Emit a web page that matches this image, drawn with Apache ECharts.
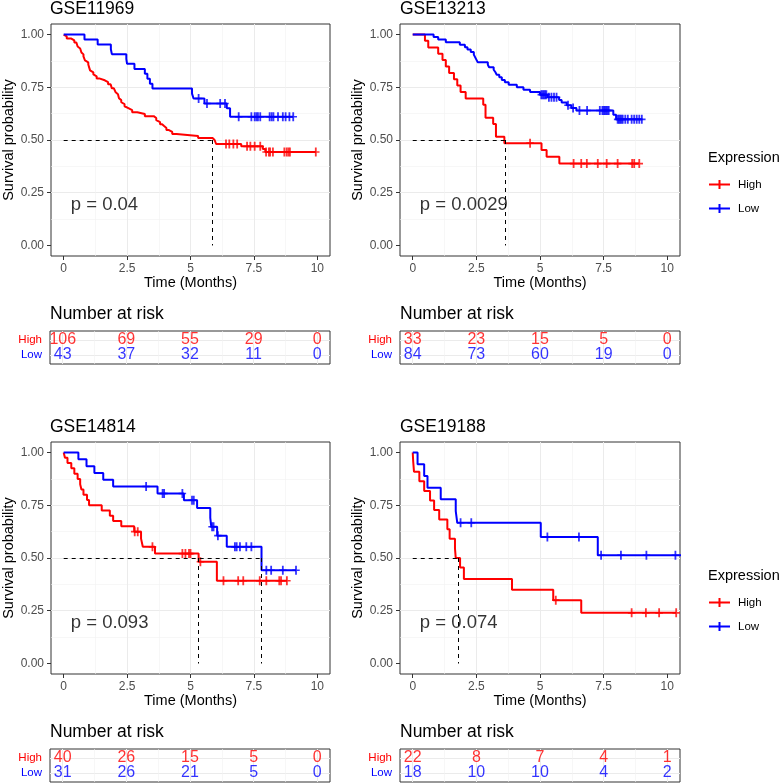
<!DOCTYPE html>
<html>
<head>
<meta charset="utf-8">
<script src="https://cdn.jsdelivr.net/npm/echarts@6/dist/echarts.min.js"></script>
<style>
  html, body { margin: 0; padding: 0; background: #fff; }
  #chart { width: 781px; height: 783px; }
</style>
</head>
<body>
<div id="chart"></div>
<script>
const titles = ['GSE11969', 'GSE13213', 'GSE14814', 'GSE19188'];
const pValues = ['p = 0.04', 'p = 0.0029', 'p = 0.093', 'p = 0.074'];
const pValueAt = [0.26, 0.19];
const xTicks = [0, 2.5, 5, 7.5, 10];
const yTicks = [0, 0.25, 0.5, 0.75, 1];
const riskTimes = [0, 2.5, 5, 7.5, 10];
const riskHigh = [[106, 69, 55, 29, 0], [33, 23, 15, 5, 0], [40, 26, 15, 5, 0], [22, 8, 7, 4, 1]];
const riskLow = [[43, 37, 32, 11, 0], [84, 73, 60, 19, 0], [31, 26, 21, 5, 0], [18, 10, 10, 4, 2]];
const medianTimes = [[5.87], [3.63], [5.32, 7.8], [1.78]];

// GSE11969
const gse11969HighTime = [0.04, 0.12, 0.30, 0.42, 0.50, 0.55, 0.60, 0.65, 0.70, 0.74, 0.78, 0.84, 0.90, 0.97, 1.00, 1.04, 1.10, 1.17, 1.22, 1.30, 1.40, 1.62, 1.75, 1.85, 1.90, 1.98, 2.05, 2.10, 2.14, 2.18, 2.22, 2.27, 2.33, 2.40, 2.47, 2.55, 2.70, 2.90, 3.20, 3.55, 3.65, 3.72, 3.80, 3.88, 3.96, 4.05, 4.15, 4.28, 4.45, 5.30, 5.87, 5.95, 6.01, 7.00, 7.85, 7.95];
const gse11969HighSurv = [0.991, 0.981, 0.972, 0.962, 0.953, 0.943, 0.934, 0.925, 0.915, 0.906, 0.896, 0.877, 0.868, 0.858, 0.849, 0.830, 0.821, 0.811, 0.802, 0.792, 0.783, 0.774, 0.764, 0.755, 0.745, 0.736, 0.726, 0.717, 0.708, 0.698, 0.689, 0.679, 0.670, 0.660, 0.651, 0.642, 0.632, 0.623, 0.613, 0.604, 0.594, 0.585, 0.575, 0.566, 0.557, 0.547, 0.538, 0.528, 0.519, 0.509, 0.500, 0.491, 0.481, 0.470, 0.457, 0.443];
const gse11969HighCensor = [6.4, 6.53, 6.69, 6.84, 7.23, 7.36, 7.53, 7.75, 7.98, 8.09, 8.14, 8.25, 8.7, 8.79, 8.86, 8.92, 9.94];
const gse11969LowTime = [0.82, 1.34, 1.86, 1.90, 2.47, 2.50, 2.79, 3.20, 3.30, 3.40, 3.50, 5.06, 5.12, 5.55, 6.43, 6.56];
const gse11969LowSurv = [0.977, 0.953, 0.930, 0.907, 0.884, 0.861, 0.837, 0.814, 0.791, 0.767, 0.744, 0.720, 0.697, 0.673, 0.650, 0.610];
const gse11969LowCensor = [5.32, 5.65, 6.17, 6.36, 6.9, 7.4, 7.53, 7.6, 7.66, 7.75, 8.12, 8.2, 8.27, 8.45, 8.64, 8.75, 8.9, 9.05];

// GSE13213
const gse13213HighTime = [0.48, 0.61, 1.00, 1.17, 1.30, 1.43, 1.62, 1.75, 1.88, 2.08, 2.77, 2.86, 3.16, 3.27, 3.60, 5.06, 5.26, 5.76];
const gse13213HighSurv = [0.970, 0.939, 0.909, 0.879, 0.848, 0.818, 0.788, 0.758, 0.727, 0.697, 0.667, 0.606, 0.576, 0.515, 0.485, 0.453, 0.420, 0.388];
const gse13213HighCensor = [4.61, 6.32, 6.62, 6.84, 7.27, 7.62, 8.05, 8.62, 8.7, 8.9];
const gse13213LowTime = [0.82, 1.00, 1.30, 1.85, 2.05, 2.15, 2.28, 2.40, 2.45, 2.50, 2.55, 2.95, 3.00, 3.18, 3.25, 3.30, 3.40, 3.50, 3.62, 3.77, 4.09, 4.35, 4.61, 5.00, 5.30, 5.75, 5.85, 6.05, 6.23, 6.43, 7.88, 7.99];
const gse13213LowSurv = [0.988, 0.976, 0.964, 0.952, 0.940, 0.929, 0.917, 0.905, 0.893, 0.881, 0.869, 0.857, 0.845, 0.833, 0.821, 0.809, 0.797, 0.785, 0.774, 0.762, 0.750, 0.738, 0.727, 0.715, 0.703, 0.690, 0.678, 0.665, 0.652, 0.640, 0.620, 0.598];
const gse13213LowCensor = [5.05, 5.1, 5.15, 5.2, 5.25, 5.35, 5.45, 5.55, 5.65, 6.1, 6.3, 6.55, 6.85, 7.35, 7.45, 7.5, 7.55, 7.6, 7.65, 7.7, 8.05, 8.1, 8.15, 8.2, 8.25, 8.35, 8.45, 8.6, 8.7, 8.8, 8.9, 9.0];

// GSE14814
const gse14814HighTime = [0.05, 0.15, 0.30, 0.42, 0.55, 0.65, 0.70, 0.78, 0.92, 1.00, 1.50, 1.82, 1.95, 2.27, 2.78, 3.05, 3.12, 3.60, 5.32, 6.04];
const gse14814HighSurv = [0.975, 0.950, 0.925, 0.900, 0.875, 0.850, 0.825, 0.800, 0.775, 0.750, 0.725, 0.700, 0.675, 0.650, 0.625, 0.592, 0.553, 0.521, 0.482, 0.392];
const gse14814HighCensor = [2.8, 2.92, 3.5, 4.68, 4.8, 4.94, 5.0, 5.39, 6.3, 6.88, 7.08, 7.73, 7.99, 8.5, 8.57, 8.8];
const gse14814LowTime = [0.58, 0.90, 1.21, 1.56, 1.95, 3.70, 4.74, 5.26, 5.78, 5.82, 6.05, 6.43, 7.80];
const gse14814LowSurv = [0.968, 0.935, 0.903, 0.871, 0.839, 0.806, 0.774, 0.737, 0.690, 0.648, 0.606, 0.553, 0.442];
const gse14814LowCensor = [3.25, 3.9, 3.96, 4.68, 5.06, 5.13, 5.85, 5.91, 6.08, 6.75, 6.82, 6.95, 7.2, 7.4, 7.99, 8.18, 8.64, 9.16];

// GSE19188
const gse19188HighTime = [0.02, 0.05, 0.26, 0.45, 0.68, 0.84, 1.04, 1.36, 1.45, 1.66, 1.69, 1.86, 2.01, 3.90, 5.52, 6.62];
const gse19188HighSurv = [0.955, 0.909, 0.864, 0.818, 0.773, 0.727, 0.682, 0.636, 0.591, 0.545, 0.500, 0.455, 0.400, 0.350, 0.300, 0.240];
const gse19188HighCensor = [5.62, 8.6, 9.16, 9.68, 10.35];
const gse19188LowTime = [0.19, 0.45, 0.58, 1.10, 1.69, 1.75, 5.03, 7.27];
const gse19188LowSurv = [0.944, 0.889, 0.833, 0.778, 0.722, 0.667, 0.600, 0.513];
const gse19188LowCensor = [1.88, 2.3, 5.29, 6.53, 7.4, 8.18, 9.18, 10.32, 10.6];

const panels = [
  { high: [gse11969HighTime, gse11969HighSurv, gse11969HighCensor], low: [gse11969LowTime, gse11969LowSurv, gse11969LowCensor] },
  { high: [gse13213HighTime, gse13213HighSurv, gse13213HighCensor], low: [gse13213LowTime, gse13213LowSurv, gse13213LowCensor] },
  { high: [gse14814HighTime, gse14814HighSurv, gse14814HighCensor], low: [gse14814LowTime, gse14814LowSurv, gse14814LowCensor] },
  { high: [gse19188HighTime, gse19188HighSurv, gse19188HighCensor], low: [gse19188LowTime, gse19188LowSurv, gse19188LowCensor] }
];

const RED = '#FF0000';
const BLUE = '#0000FF';
const FONT = '"Liberation Sans", Arial, sans-serif';
const PLUS = 'path://M0,4.1H10V5.9H0Z M3.8,0H6.2V10H3.8Z';
const LEGEND_ICON = 'path://M0,3.6H21V5.4H0Z M9.5,0H11.5V9H9.5Z';
const colLeft = [50, 400];
const rowOffset = [0, 418];

// survival value of the step curve at time t
function survAt(times, surv, t) {
  let s = 1;
  for (let i = 0; i < times.length; i++) if (times[i] <= t) s = surv[i];
  return s;
}

function stepData(times, surv, censor) {
  const d = [[0, 1]];
  times.forEach((t, i) => d.push([t, surv[i]]));
  const lastT = times[times.length - 1];
  const end = Math.max(lastT, ...censor);
  if (end > lastT) d.push([end, surv[surv.length - 1]]);
  return d;
}

function censorData(times, surv, censor) {
  return censor.map(t => [t, survAt(times, surv, t)]);
}

const grid = [], xAxis = [], yAxis = [], series = [], title = [];
const gridLine = { show: true, showMinLine: false, showMaxLine: false, lineStyle: { color: '#EBEBEB', width: 1 } };
const minorLine = { show: true, lineStyle: { color: '#F2F2F2', width: 0.6 } };

panels.forEach((pn, p) => {
  const left = colLeft[p % 2];
  const off = rowOffset[Math.floor(p / 2)];
  const gPlot = 2 * p, gTable = 2 * p + 1;

  grid.push({ left: left, top: 24 + off, width: 280, height: 232, show: true,
    backgroundColor: '#fff', borderColor: '#333', borderWidth: 1 });
  grid.push({ left: left, top: 331 + off, width: 280, height: 33, show: true,
    backgroundColor: '#fff', borderColor: '#333', borderWidth: 1 });

  xAxis.push({
    type: 'value', gridIndex: gPlot, min: -0.5, max: 10.5, minInterval: 2.5, maxInterval: 2.5,
    axisLine: { show: false, onZero: false },
    axisTick: { show: true, length: 4, lineStyle: { color: '#333' }, customValues: xTicks },
    axisLabel: { color: '#4D4D4D', fontSize: 12, margin: 7, fontFamily: FONT, customValues: xTicks },
    splitLine: gridLine,
    minorTick: { show: false, splitNumber: 2 },
    minorSplitLine: minorLine,
    name: 'Time (Months)', nameLocation: 'middle', nameGap: 19,
    nameTextStyle: { fontSize: 14.5, color: '#000', fontFamily: FONT }
  });
  yAxis.push({
    type: 'value', gridIndex: gPlot, min: -0.05, max: 1.05, minInterval: 0.25, maxInterval: 0.25,
    axisLine: { show: false, onZero: false },
    axisTick: { show: true, length: 4, lineStyle: { color: '#333' }, customValues: yTicks },
    axisLabel: { color: '#4D4D4D', fontSize: 12, margin: 7, fontFamily: FONT,
      formatter: v => v.toFixed(2), customValues: yTicks },
    splitLine: gridLine,
    minorTick: { show: false, splitNumber: 2 },
    minorSplitLine: minorLine,
    name: 'Survival probability', nameLocation: 'middle', nameGap: 35,
    nameTextStyle: { fontSize: 14.5, color: '#000', fontFamily: FONT }
  });

  // risk table axes
  xAxis.push({
    type: 'value', gridIndex: gTable, min: -0.5, max: 10.5, minInterval: 2.5, maxInterval: 2.5,
    axisLine: { show: false, onZero: false }, axisTick: { show: false }, axisLabel: { show: false },
    splitLine: gridLine,
    minorTick: { show: false, splitNumber: 2 },
    minorSplitLine: minorLine
  });
  yAxis.push({
    type: 'value', gridIndex: gTable, min: 0.4, max: 2.6, minInterval: 1, maxInterval: 1,
    axisLine: { show: false, onZero: false }, axisTick: { show: false },
    axisLabel: { margin: 8, fontSize: 11.5, fontFamily: FONT, customValues: [1, 2],
      formatter: v => v === 2 ? '{h|High}' : (v === 1 ? '{l|Low}' : ''),
      rich: { h: { color: RED, fontSize: 11.5, fontFamily: FONT }, l: { color: BLUE, fontSize: 11.5, fontFamily: FONT } } },
    splitLine: gridLine
  });

  const meds = medianTimes[p];
  const medLines = [[{ coord: [0, 0.5] }, { coord: [Math.max(...meds), 0.5] }]];
  meds.forEach(m => medLines.push([{ coord: [m, 0.5] }, { coord: [m, 0] }]));

  [['High', RED, pn.high], ['Low', BLUE, pn.low]].forEach(([name, color, d], k) => {
    const line = {
      name: name, type: 'line', xAxisIndex: gPlot, yAxisIndex: gPlot, step: 'end',
      data: stepData(d[0], d[1], d[2]), symbol: 'none', clip: true, color: color,
      lineStyle: { color: color, width: 2 }, z: 3
    };
    if (k === 0) {
      line.markLine = { silent: true, symbol: ['none', 'none'], label: { show: false },
        lineStyle: { color: '#000', type: [4, 4], width: 1 }, data: medLines, animation: false };
    }
    series.push(line);
  });
  [['High', RED, pn.high], ['Low', BLUE, pn.low]].forEach(([name, color, d]) => {
    series.push({
      name: name, type: 'scatter', xAxisIndex: gPlot, yAxisIndex: gPlot,
      data: censorData(d[0], d[1], d[2]), symbol: PLUS, symbolSize: [7.5, 9],
      itemStyle: { color: color }, clip: true, z: 4
    });
  });

  series.push({
    name: 'pvalue', type: 'scatter', xAxisIndex: gPlot, yAxisIndex: gPlot,
    data: [pValueAt], symbolSize: 1, itemStyle: { color: 'rgba(0,0,0,0)' },
    label: { show: true, position: 'right', distance: 0, formatter: pValues[p],
      fontSize: 18.5, color: '#000', fontFamily: FONT, textBorderWidth: 0 }, z: 5
  });

  [[riskHigh[p], 2, RED], [riskLow[p], 1, BLUE]].forEach(([vals, row, color]) => {
    series.push({
      name: 'risk', type: 'scatter', xAxisIndex: gTable, yAxisIndex: gTable,
      data: riskTimes.map((t, i) => [t, row, vals[i]]), symbolSize: 1,
      itemStyle: { color: 'rgba(0,0,0,0)' },
      label: { show: true, position: 'inside', formatter: q => String(q.value[2]),
        fontSize: 16, color: color, fontFamily: FONT, textBorderWidth: 0 }
    });
  });

  title.push({ text: titles[p], left: left, top: 0 + off, padding: 0,
    textStyle: { fontSize: 17.5, fontWeight: 'normal', color: '#000', fontFamily: FONT } });
  title.push({ text: 'Number at risk', left: left, top: 305 + off, padding: 0,
    textStyle: { fontSize: 17.5, fontWeight: 'normal', color: '#000', fontFamily: FONT } });
});

rowOffset.forEach(off => {
  title.push({ text: 'Expression', left: 708, top: 150.5 + off, padding: 0,
    textStyle: { fontSize: 14.5, fontWeight: 'normal', color: '#000', fontFamily: FONT } });
});

const legend = rowOffset.map(off => ({
  orient: 'vertical', left: 709, top: 178.5 + off, padding: 0,
  itemWidth: 21, itemHeight: 9, itemGap: 12, icon: LEGEND_ICON,
  itemStyle: { borderWidth: 0 }, selectedMode: false,
  data: ['High', 'Low'],
  textStyle: { fontSize: 11.5, color: '#000', fontFamily: FONT, padding: [0, 0, 0, 3] }
}));

const chart = echarts.init(document.getElementById('chart'), null, { renderer: 'canvas' });
chart.setOption({
  animation: false,
  backgroundColor: '#fff',
  title: title,
  legend: legend,
  grid: grid,
  xAxis: xAxis,
  yAxis: yAxis,
  series: series
});
</script>
</body>
</html>
